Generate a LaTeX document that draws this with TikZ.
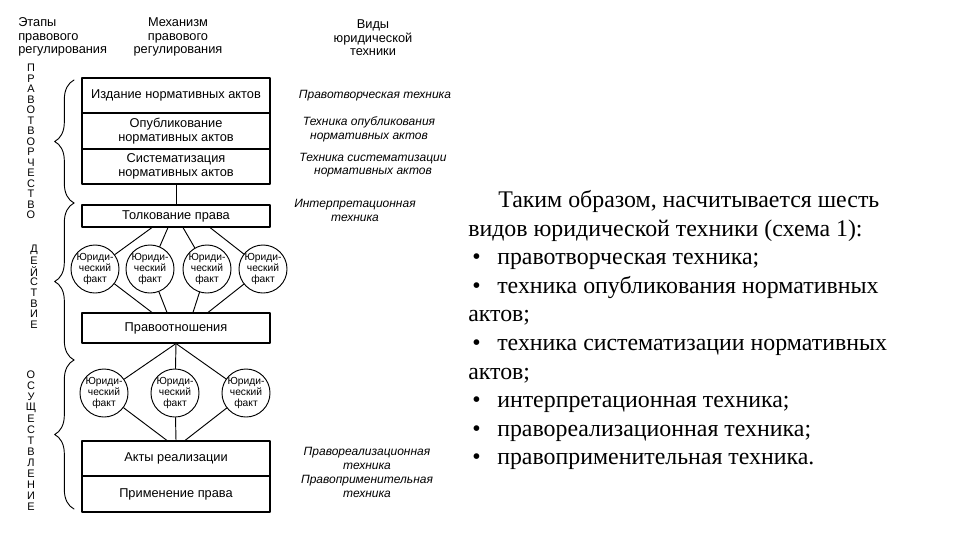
\documentclass[tikz,border=0pt]{standalone}
\usepackage{fontspec}
\setmainfont{Liberation Serif}
\newfontfamily\arialf{Liberation Sans}
\usetikzlibrary{decorations.pathreplacing}
\tikzset{
	blk/.style={draw, line width=0.8pt, minimum width=141pt, inner sep=0pt, align=center, font=\arialf\fontsize{9.6}{10.8}\selectfont},
	fact/.style={draw, circle, line width=0.7pt, minimum size=35pt, inner sep=0pt, align=center, font=\arialf\fontsize{7.7}{8.1}\selectfont},
	tech/.style={align=center, inner sep=0pt, font=\arialf\itshape\fontsize{9}{10.3}\selectfont},
	head/.style={align=center, inner sep=0pt, font=\arialf\fontsize{9.6}{10.1}\selectfont},
	vlet/.style={inner sep=0pt, font=\arialf\fontsize{8.2}{8.4}\selectfont},
	brc/.style={decorate, decoration={brace, amplitude=14.5pt}, line width=0.7pt},
	conn/.style={line width=0.7pt}
}
\newcommand{\bul}{\makebox[21.75pt][l]{\hspace{3pt}\textbullet}}
\begin{document}
\begin{tikzpicture}[x=0.75pt, y=-0.75pt, line join=round, line cap=round]
		\useasboundingbox (0,0) rectangle (960,540);
		% headers
		\node[head, align=left, anchor=west] (h1) at (18,37) {Этапы\\правового\\регулирования};
		\node[head] (h2) at (178,37) {Механизм\\правового\\регулирования};
		\node[head] (h3) at (373,38) {Виды\\юридической\\техники};
		% stages, written downwards
		\foreach \l [count=\i] in {П,Р,А,В,О,Т,В,О,Р,Ч,Е,С,Т,В,О} \node[vlet] (p\i) at (31,68+10.5*\i-10.5) {\l};
		\foreach \l [count=\i] in {Д,Е,Й,С,Т,В,И,Е} \node[vlet] (d\i) at (34,250+10.7*\i-10.7) {\l};
		\foreach \l [count=\i] in {О,С,У,Щ,Е,С,Т,В,Л,Е,Н,И,Е} \node[vlet] (o\i) at (31,375+11*\i-11) {\l};
		\draw[brc] (74,203)--(74,80);
		\draw[brc] (74,360)--(74,203);
		\draw[brc] (74,509)--(74,360);
		% mechanism
		\node[blk, minimum height=26.25pt] (izd) at (176,95.5) {Издание нормативных актов};
		\node[blk, minimum height=27pt] (opub) at (176,131) {Опубликование\\нормативных актов};
		\node[blk, minimum height=26.25pt] (sist) at (176,166.5) {Систематизация\\нормативных актов};
		\node[blk, minimum height=16.5pt] (tolk) at (176,216) {Толкование права};
		\node[blk, minimum height=22.5pt] (prav) at (176,328) {Правоотношения};
		\node[blk, minimum height=26.25pt] (akty) at (176,458.5) {Акты реализации};
		\node[blk, minimum height=27pt] (prim) at (176,494) {Применение права};
		\foreach \x [count=\j] in {95,150,207,263} \node[fact] (j\j) at (\x,269) {Юриди-\\ческий\\факт};
		\foreach \x [count=\k] in {104,175,246} \node[fact] (k\k) at (\x,393) {Юриди-\\ческий\\факт};
		\draw[conn] (sist.south)--(tolk.north);
		\foreach \j/\a/\b in {1/-18/-18, 2/-6/-6.75, 3/5.25/12.75, 4/25.5/24}
		\draw[conn] ([xshift=\a pt]tolk.south)--(j\j)--([xshift=\b pt]prav.north);
		\foreach \k/\b in {1/-6.75, 2/0, 3/6.75}
		\draw[conn] (prav.south)--(k\k)--([xshift=\b pt]akty.north);
		% kinds of technique
		\node[tech] (t1) at (375,96) {Правотворческая техника};
		\node[tech] (t2) at (369,129) {Техника опубликования\\нормативных актов};
		\node[tech] (t3) at (373,165) {Техника систематизации\\нормативных актов};
		\node[tech] (t4) at (355,210.5) {Интерпретационная\\техника};
		\node[tech] (t5) at (367,458.5) {Правореализационная\\техника};
		\node[tech] (t6) at (367,486.5) {Правоприменительная\\техника};
		% text
		\node[anchor=north west, align=left, inner sep=0pt, font=\fontsize{17.9}{21.4}\selectfont] (txt) at (468,190.5)
		{\hspace*{22.5pt}Таким образом, насчитывается шесть\\
		видов юридической техники (схема 1):\\
		\bul правотворческая техника;\\
		\bul техника опубликования нормативных\\
		актов;\\
		\bul техника систематизации нормативных\\
		актов;\\
		\bul интерпретационная техника;\\
		\bul правореализационная техника;\\
		\bul правоприменительная техника.};
\end{tikzpicture}
\end{document}
